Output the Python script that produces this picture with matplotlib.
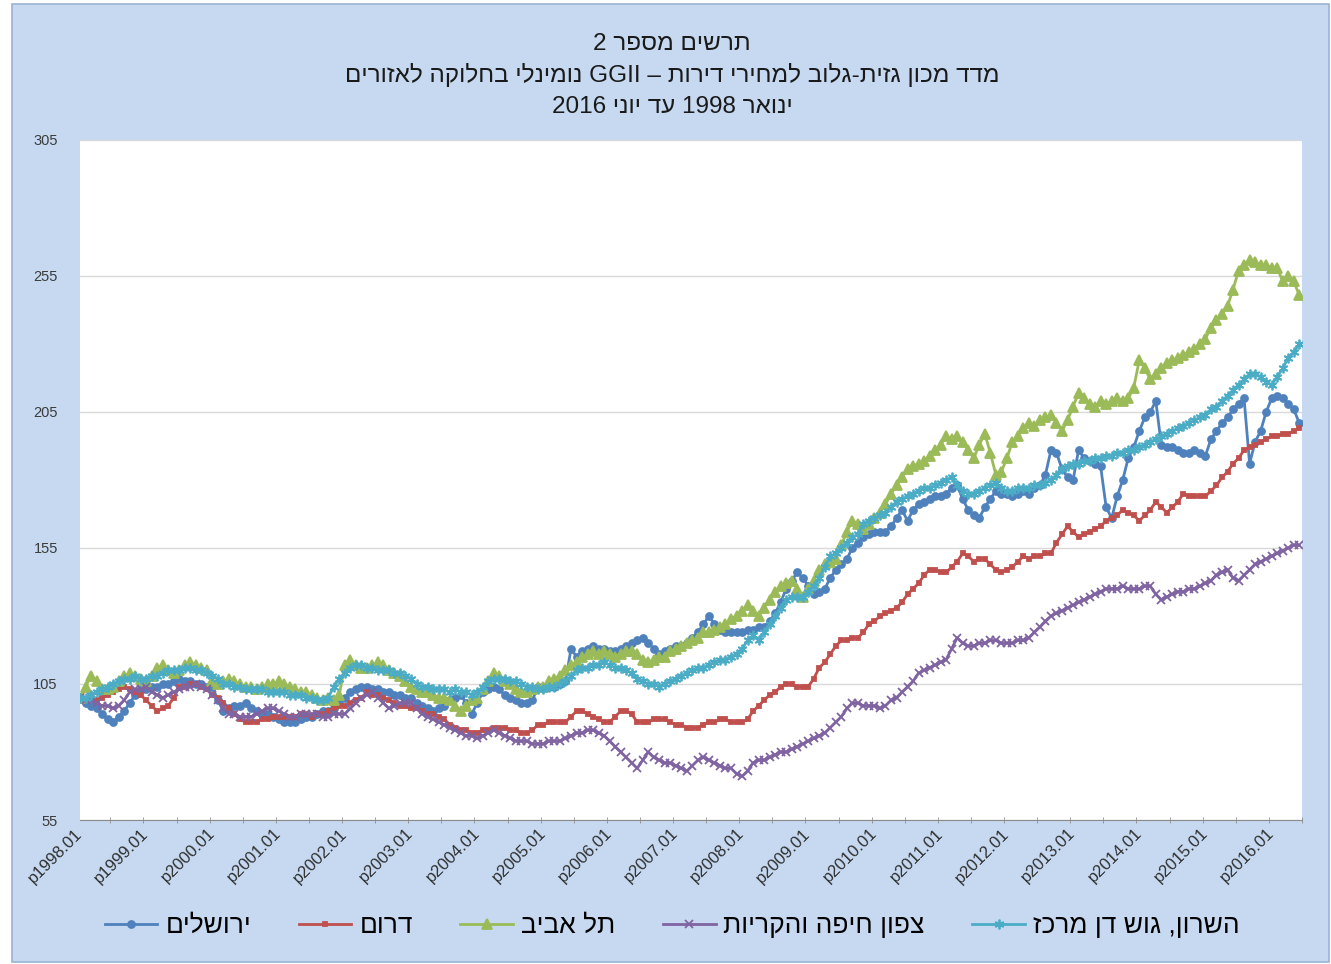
import re
import numpy as np
import matplotlib
matplotlib.use("Agg")
import matplotlib.pyplot as plt
from matplotlib.patches import Rectangle

# GGII nominal index by region, monthly p1998.01 .. p2016.06
jerusalem = [
    100, 98, 97, 96, 94, 92, 91, 93, 95, 98, 101, 103,
    103, 104, 104, 105, 105, 106, 107, 106, 106, 105, 105, 104,
    104, 99, 95, 96, 97, 97, 98, 96, 95, 94, 94, 93,
    92, 91, 91, 91, 92, 93, 93, 94, 95, 95, 96, 98,
    100, 102, 103, 104, 104, 103, 103, 102, 102, 101, 101, 100,
    100, 98, 97, 96, 95, 96, 97, 99, 100, 101, 98, 94,
    98, 102, 103, 104, 103, 101, 100, 99, 98, 98, 99, 104,
    104, 104, 104, 105, 106, 118, 115, 117, 118, 119, 118, 118,
    117, 117, 118, 119, 120, 121, 122, 120, 118, 116, 117, 118,
    119, 119, 120, 122, 124, 127, 130, 127, 125, 124, 124, 124,
    124, 125, 125, 126, 126, 128, 131, 135, 140, 143, 146, 144,
    141, 138, 139, 140, 144, 147, 149, 151, 155, 157, 159, 160,
    161, 161, 161, 163, 166, 169, 165, 169, 171, 172, 173, 174,
    174, 175, 177, 178, 173, 169, 167, 166, 170, 173, 176, 175,
    175, 174, 175, 176, 175, 177, 178, 182, 191, 190, 184, 181,
    180, 191, 188, 187, 186, 185, 170, 166, 174, 180, 188, 192,
    198, 203, 205, 209, 193, 192, 192, 191, 190, 190, 191, 190,
    189, 195, 198, 201, 203, 206, 208, 210, 186, 194, 198, 205,
    210, 211, 210, 208, 206, 201,
]
south = [
    100, 103, 101, 99, 100, 101, 102, 103, 104, 103, 102, 101,
    99, 97, 95, 96, 97, 100, 104, 104, 105, 105, 104, 103,
    101, 100, 98, 96, 94, 92, 91, 91, 91, 92, 92, 93,
    93, 93, 93, 93, 94, 94, 93, 94, 94, 95, 96, 97,
    97, 98, 99, 100, 102, 101, 101, 100, 99, 98, 97, 97,
    96, 96, 95, 94, 94, 93, 92, 90, 89, 88, 88, 87,
    87, 88, 88, 89, 89, 89, 88, 88, 87, 87, 88, 90,
    90, 91, 91, 91, 91, 93, 95, 95, 94, 93, 92, 91,
    91, 93, 95, 95, 94, 91, 91, 91, 92, 92, 92, 91,
    90, 90, 89, 89, 89, 90, 91, 91, 92, 92, 91, 91,
    91, 92, 95, 97, 99, 101, 102, 104, 105, 105, 104, 104,
    104, 107, 111, 113, 116, 119, 121, 121, 122, 122, 124, 127,
    128, 130, 131, 132, 133, 135, 138, 140, 142, 145, 147, 147,
    146, 146, 148, 150, 153, 152, 150, 151, 151, 149, 147, 146,
    147, 148, 150, 152, 151, 152, 152, 153, 153, 157, 160, 163,
    161, 159, 160, 161, 162, 163, 165, 166, 167, 169, 168, 167,
    165, 167, 169, 172, 170, 168, 170, 172, 175, 174, 174, 174,
    174, 176, 178, 181, 183, 186, 188, 191, 192, 193, 194, 195,
    196, 196, 197, 197, 198, 199,
]
tel_aviv = [
    100, 104, 108, 106, 103, 103, 104, 106, 108, 109, 108, 107,
    106, 108, 111, 112, 110, 109, 110, 112, 113, 112, 111, 110,
    106, 105, 106, 107, 106, 105, 104, 104, 103, 104, 105, 105,
    106, 105, 104, 103, 102, 102, 101, 100, 99, 100, 99, 101,
    112, 114, 112, 111, 111, 112, 113, 112, 110, 109, 108, 106,
    104, 103, 102, 102, 101, 100, 100, 99, 97, 95, 97, 99,
    100, 103, 106, 109, 108, 106, 105, 103, 102, 102, 103, 104,
    104, 106, 107, 108, 110, 112, 113, 115, 116, 117, 116, 117,
    116, 115, 116, 117, 117, 116, 114, 113, 114, 115, 115, 117,
    118, 119, 120, 121, 122, 124, 124, 125, 126, 127, 129, 130,
    132, 134, 132, 130, 133, 136, 139, 141, 142, 143, 140, 137,
    140, 143, 147, 149, 150, 151, 156, 161, 165, 164, 162, 164,
    166, 168, 171, 175, 178, 181, 184, 185, 186, 187, 189, 191,
    193, 196, 195, 196, 194, 191, 188, 193, 197, 190, 182, 183,
    188, 194, 196, 199, 201, 200, 202, 203, 204, 201, 198, 202,
    207, 212, 210, 208, 207, 209, 208, 209, 210, 209, 210, 214,
    224, 221, 217, 219, 221, 223, 224, 225, 226, 227, 228, 230,
    232, 236, 239, 241, 244, 250, 257, 259, 261, 260, 259, 259,
    258, 258, 253, 255, 253, 248,
]
north = [
    100, 99, 99, 98, 97, 97, 96, 97, 99, 102, 103, 103,
    104, 102, 101, 100, 101, 102, 103, 104, 104, 105, 104, 103,
    101, 99, 96, 94, 94, 93, 93, 93, 94, 95, 96, 96,
    95, 94, 93, 93, 94, 94, 94, 94, 93, 93, 94, 94,
    94, 96, 98, 100, 101, 102, 100, 98, 96, 97, 98, 98,
    98, 96, 94, 93, 92, 91, 90, 89, 88, 87, 86, 86,
    85, 86, 87, 88, 87, 86, 85, 84, 84, 84, 83, 83,
    83, 84, 84, 84, 85, 86, 87, 87, 88, 88, 87, 86,
    84, 82, 80, 78, 76, 74, 77, 80, 78, 77, 76, 76,
    75, 74, 73, 75, 77, 78, 77, 76, 75, 74, 74, 72,
    71, 73, 76, 77, 77, 78, 79, 80, 80, 81, 82, 83,
    84, 85, 86, 87, 89, 91, 93, 96, 98, 98, 97, 97,
    97, 96, 97, 99, 100, 102, 104, 106, 109, 110, 111, 112,
    113, 114, 118, 122, 120, 119, 119, 120, 120, 121, 121, 120,
    120, 120, 121, 121, 122, 124, 126, 128, 130, 131, 132, 133,
    134, 135, 136, 137, 138, 139, 140, 140, 140, 141, 140, 140,
    140, 141, 141, 138, 136, 137, 138, 139, 139, 140, 140, 141,
    142, 143, 145, 146, 147, 144, 143, 145, 147, 149, 150, 151,
    152, 153, 154, 155, 156, 156,
]
sharon = [
    100, 100, 101, 102, 103, 104, 105, 106, 107, 107, 108, 107,
    107, 108, 108, 109, 110, 110, 110, 111, 111, 110, 110, 109,
    108, 107, 105, 105, 104, 104, 103, 103, 103, 103, 102, 102,
    102, 102, 101, 101, 101, 100, 100, 99, 99, 100, 104, 107,
    109, 111, 112, 112, 111, 111, 110, 110, 110, 109, 109, 108,
    107, 105, 104, 104, 103, 103, 103, 102, 103, 102, 102, 101,
    102, 104, 106, 107, 107, 107, 106, 106, 105, 104, 104, 103,
    103, 104, 104, 105, 106, 108, 110, 111, 111, 112, 112, 113,
    112, 111, 111, 110, 109, 107, 106, 105, 105, 104, 105, 106,
    107, 108, 109, 110, 111, 111, 112, 113, 114, 114, 115, 116,
    118, 121, 123, 121, 124, 127, 130, 133, 136, 137, 137, 137,
    139, 141, 144, 148, 152, 153, 155, 157, 159, 160, 164, 165,
    166, 167, 168, 170, 172, 173, 174, 175, 176, 177, 177, 178,
    179, 180, 181, 178, 176, 175, 175, 176, 177, 178, 179, 177,
    176, 176, 177, 177, 177, 178, 178, 179, 180, 182, 184, 185,
    186, 186, 187, 187, 188, 188, 189, 189, 190, 190, 191, 191,
    192, 193, 194, 195, 196, 197, 198, 199, 200, 201, 202, 203,
    204, 206, 207, 209, 211, 213, 215, 217, 219, 219, 218, 216,
    215, 218, 221, 225, 227, 230,
]

series_names = ["ירושלים", "דרום", "תל אביב", "צפון חיפה והקריות", "השרון, גוש דן מרכז"]
colors = ["#4F81BD", "#C0504D", "#9BBB59", "#8064A2", "#4BACC6"]
markers = ["o", "s", "^", "x", (6, 2, 0)]
msizes = [5, 3.5, 7, 6, 7]
years = list(range(1998, 2017))
title_lines = ["תרשים מספר 2",
               "מדד מכון גזית-גלוב למחירי דירות – GGII נומינלי בחלוקה לאזורים",
               "ינואר 1998 עד יוני 2016"]


def rtl(s):
    # matplotlib has no bidi: flip to visual order, keep latin/digit runs LTR
    v = s[::-1]
    return re.sub(r"[A-Za-z0-9.]+", lambda m: m.group(0)[::-1], v)


plt.rcParams["font.family"] = ["Liberation Sans", "DejaVu Sans"]
bg = "#C6D9F1"
fig = plt.figure(figsize=(13.31, 9.64), dpi=100, facecolor="white")
fig.patches.append(Rectangle((12 / 1331, 2 / 964), 1317 / 1331, 958 / 964,
                             transform=fig.transFigure, facecolor=bg,
                             edgecolor="#9AB3D3", lw=1.2, zorder=-1))
ax = fig.add_axes([80 / 1331, 1 - 820 / 964, 1222 / 1331, 680 / 964])
ax.set_facecolor("white")

data = [jerusalem, south, tel_aviv, north, sharon]
x = np.arange(len(tel_aviv))
for vals, name, c, m, ms in zip(data, series_names, colors, markers, msizes):
    ax.plot(x, vals, color=c, lw=2, marker=m, ms=ms, mew=1.3, mfc=c, mec=c,
            label=rtl(name))

ax.set_xlim(0, len(x) - 1)
ax.set_ylim(55, 305)
ax.set_yticks(range(55, 306, 50))
ax.yaxis.grid(True, color="#D9D9D9", lw=1)
ax.set_axisbelow(True)
for s in ["left", "right", "top"]:
    ax.spines[s].set_visible(False)
ax.spines["bottom"].set_color("#8C8C8C")
ax.tick_params(axis="y", length=0, pad=16, labelsize=10.5, labelcolor="#3B3B3B")

ax.set_xticks([12 * i for i in range(len(years))])
ax.set_xticklabels([f"p{y}.01" for y in years], rotation=45, ha="right",
                   va="center", rotation_mode="anchor", fontsize=12, color="#2F2F2F")
ax.set_xticks(np.arange(5.5, len(x), 6), minor=True)
ax.tick_params(axis="x", which="major", length=0, pad=8)
ax.tick_params(axis="x", which="minor", length=5, direction="inout", color="#8C8C8C")

for line, yy in zip(title_lines, [44, 75, 107]):
    fig.text(0.505, 1 - yy / 964, rtl(line), ha="center", va="center",
             fontsize=17.5, color="#1A1A1A")

h, l = ax.get_legend_handles_labels()
fig.legend(h, l, loc="center", bbox_to_anchor=(0.505, 1 - 926 / 964), ncol=5,
           frameon=False, fontsize=19, handlelength=2.0, columnspacing=1.8,
           handletextpad=0.3)

fig.savefig("out.png", dpi=100, facecolor=fig.get_facecolor())
